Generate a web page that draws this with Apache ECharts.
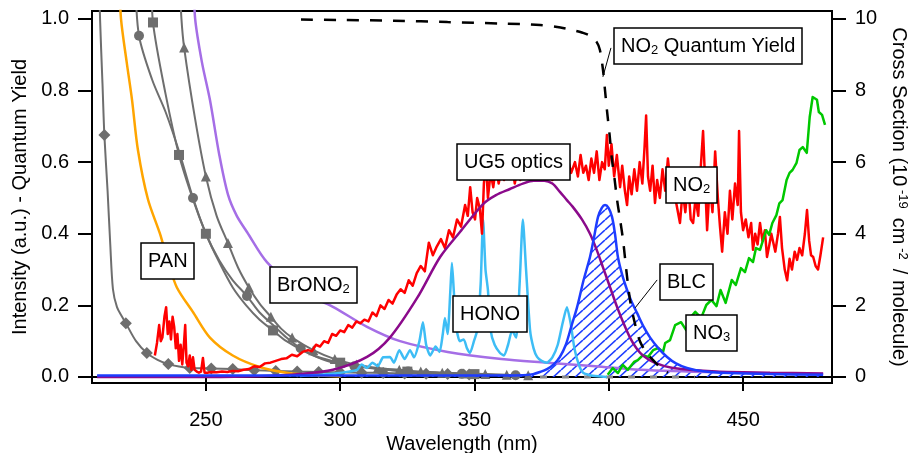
<!DOCTYPE html>
<html><head><meta charset="utf-8">
<script src="https://cdn.jsdelivr.net/npm/echarts@6/dist/echarts.min.js"></script>
<style>html,body{margin:0;padding:0;background:#fff}#c{width:912px;height:453px}</style>
</head><body><div id="c"></div>
<script>
// ---------- axes ----------
const xTicks = [250, 300, 350, 400, 450];
const yLeftTicks = [0, 0.2, 0.4, 0.6, 0.8, 1.0];
const yRightTicks = [0, 2, 4, 6, 8, 10];
const X_MIN = 207.6, X_MAX = 483.1;
const YL_MIN = -0.0168, YL_MAX = 1.022;

// ---------- cross sections (right axis, 1e-19 cm^2/molecule) ----------
const grayDiamond = [[209.6,13],[210.6,10],[211.5,8.2],[212.2,6.76],[213.4,5.2],[214.4,3.7],[215.4,2.45],[216.9,1.95],[218.8,1.68],[220.2,1.5],[224,1.0],[228,0.67],[232,0.48],[236,0.36],[240,0.29],[244,0.25],[252,0.24],[260,0.22],[268,0.19],[276,0.17],[284,0.15],[292,0.14],[300,0.13],[308,0.12],[316,0.11],[324,0.1],[332,0.09],[340,0.08],[348,0.07]];
const grayDiamondMarks = [212.2,220.2,228,236,244,252,260,268,276,284,292,300,308,316,324,332,340,348];
const grayCircle = [[223.8,11],[225.1,9.53],[230,8.3],[235,7.4],[240,6.3],[245.2,5.0],[250,4.0],[255,3.25],[260,2.7],[265.3,2.26],[270,1.8],[275,1.45],[280,1.1],[285.3,0.8],[295,0.45],[305.3,0.3],[325.3,0.15],[345.3,0.09],[365.3,0.05]];
const grayCircleMarks = [225.1,245.2,265.3,285.3,305.3,325.3,345.3,365.3];
const graySquare = [[229.8,11],[230.3,9.9],[235,7.9],[240,6.2],[245,5.0],[250,4.0],[255,3.2],[260,2.5],[265,2.0],[270,1.6],[275,1.3],[280,1.0],[290,0.6],[300,0.4],[312,0.25],[325,0.15],[350,0.08]];
const graySquareMarks = [230.3,240,250,275,300,325,350];
const grayTriangle = [[240.3,11],[240.9,10],[241.9,9.2],[246,7.2],[250,5.6],[254,4.5],[258.2,3.74],[262,3.05],[266,2.5],[270,2.05],[274.2,1.68],[278,1.35],[282.1,1.1],[290,0.75],[298,0.5],[306,0.35],[314,0.25],[322,0.2],[330,0.15],[338,0.12],[346,0.1],[354,0.08],[362,0.06],[370,0.05]];
const grayTriangleMarks = [241.9,250,258.2,266,274.2,282.1,290,298,306,314,322,330,338,346,354,362,370];
const grayDashed = [[374.4,0],[432,0]];
const pan = [[217.9,11],[218.4,10],[220.5,8.8],[222.5,7.74],[224.7,6.34],[228.4,4.97],[232.9,4.0],[236,3.2],[239.2,2.5],[245.3,1.8],[251.5,1.1],[260,0.6],[270,0.28],[280,0.12],[290,0.05],[300,0.02]];
const brono2 = [[245.6,11],[246,10],[248.5,8.8],[251.5,7.74],[255,6.2],[258.2,5.1],[261.5,4.5],[265.3,4.05],[272.8,3.2],[285,2.4],[297.3,1.96],[310,1.4],[322.3,1.0],[340,0.7],[360,0.5],[377,0.4],[395,0.3],[411.6,0.2],[440,0.13],[479.8,0.08]];
const hono = [[285,0.03],[292,0.06],[298,0.1],[303,0.15],[306.3,0.2],[308,0.35],[310,0.25],[312,0.4],[314,0.3],[316,0.55],[318.5,0.56],[320,0.4],[322,0.75],[324,0.5],[326,0.75],[327.5,0.55],[329.5,1.0],[330.8,1.53],[332,0.9],[333.5,0.6],[335.5,0.85],[337,0.7],[338.2,1.2],[339,1.65],[340,1.2],[341,2.4],[341.6,3.18],[342.3,2.4],[343.2,1.4],[344.5,1.0],[346,1.05],[347.2,0.8],[348.3,0.67],[349.8,1.0],[351,1.3],[352.3,2.6],[353.2,4.4],[354.1,3.0],[355,2.43],[356,1.3],[357.5,0.9],[359.5,0.67],[361,0.6],[362.5,0.9],[364,1.3],[365.5,1.1],[366.8,2.6],[368,4.4],[369.2,3.0],[370.7,1.3],[372,0.8],[373.3,0.56],[375,0.45],[377,0.4],[379,0.55],[381,0.9],[382.8,1.5],[384.4,1.95],[385.8,1.5],[387.2,0.8],[388.8,0.35],[390.4,0.12],[393,0.05],[396,0.02],[399.3,0.0]];
const no2 = [[231,0.6],[231.8,0.95],[232.6,1.45],[233.2,1.0],[233.8,1.1],[234.6,1.7],[235.2,1.95],[235.8,1.2],[236.4,1.55],[237,1.05],[237.6,1.68],[238.2,1.4],[238.8,0.8],[239.4,1.2],[240,0.45],[240.6,0.9],[241.2,0.35],[241.8,0.9],[242.3,1.45],[242.8,0.4],[243.4,0.3],[244,0.6],[244.6,0.2],[245.2,0.55],[245.8,0.2],[246.6,0.15],[247.4,0.12],[248.2,0.15],[248.9,0.53],[249.5,0.12],[250.5,0.12],[252,0.14],[254,0.13],[256,0.15],[258,0.14],[260,0.17],[262,0.16],[264,0.2],[266,0.22],[268,0.3],[270,0.28],[272,0.38],[274,0.4],[276,0.45],[278,0.5],[280,0.52],[282,0.62],[284,0.58],[286,0.7],[288,0.75],[289.5,0.72],[291,0.9],[292.5,0.85],[294,1.0],[295.5,0.95],[297,1.2],[298.5,1.15],[300,1.3],[301.5,1.25],[303,1.45],[304.5,1.38],[306,1.55],[307.5,1.5],[309,1.6],[310.5,1.55],[312,1.8],[313.5,1.7],[315,2.0],[316.5,1.9],[318,2.15],[319.5,2.05],[321,2.3],[322.5,2.45],[324,2.35],[325.5,2.7],[327,2.55],[328.5,2.9],[330,3.1],[331.5,2.95],[333,3.75],[334.5,3.4],[336,3.65],[337.5,3.85],[339,3.6],[340.5,4.1],[342,3.9],[343.5,4.4],[345,4.2],[346.5,4.8],[347.5,4.5],[348.4,5.3],[349.3,4.6],[350.2,4.4],[351,5.0],[352,4.7],[352.8,4.0],[353.5,5.4],[354.3,6.0],[355,5.0],[356,5.7],[357,5.3],[358,5.9],[359,5.4],[360,5.8],[361,5.5],[362,6.0],[363,5.6],[364,5.9],[365,5.4],[366,5.8],[367,5.5],[368,6.1],[369,5.7],[370,5.9],[371,5.6],[372,6.0],[373,5.5],[374,5.8],[375,5.6],[376,6.1],[377,5.7],[378,6.0],[379,5.5],[380,5.9],[381,5.6],[382,6.2],[383,5.8],[384,5.6],[385,6.0],[386,5.7],[387.4,6.0],[388.5,5.6],[389.5,6.2],[390.5,5.7],[391.5,5.9],[392.5,5.5],[393.5,6.1],[394.5,5.7],[395.5,6.3],[396.5,5.5],[397.5,6.0],[398.5,5.8],[399.3,6.76],[400,5.9],[401,6.5],[402,5.6],[403,6.2],[404.2,5.3],[405,5.9],[406,5.2],[406.8,4.8],[407.6,5.6],[408.5,5.1],[409.5,5.8],[410.5,5.2],[411.5,6.0],[412.5,5.4],[413.3,6.4],[413.9,7.3],[414.6,5.6],[415.4,5.2],[416.3,5.9],[417.2,4.86],[418,5.5],[419,5.0],[420,5.8],[421,5.2],[422,6.1],[423,5.4],[424,5.7],[425,4.9],[426.5,4.3],[427.5,5.2],[428.5,4.6],[429.5,5.5],[430.5,4.4],[431.4,4.3],[432.3,5.0],[433.3,4.5],[434.2,5.8],[435.1,6.87],[436,5.2],[436.6,4.1],[437.6,5.4],[438.6,4.6],[439.6,6.3],[440.6,5.0],[441.4,4.2],[442.2,3.5],[443.2,4.6],[444.2,4.0],[445.1,5.2],[446,4.4],[447,5.4],[448,4.8],[448.5,6.87],[449.2,4.6],[450,4.1],[451,4.4],[452,3.9],[453,4.3],[453.7,3.55],[454.5,4.0],[455.4,3.7],[456.3,4.3],[457.2,3.8],[458.1,4.1],[458.9,3.35],[459.8,3.7],[460.5,4.0],[461.1,3.8],[462,3.5],[463,4.0],[463.7,4.47],[464.5,3.6],[465.5,3.0],[466.4,2.7],[467.3,3.3],[468.2,3.0],[469.2,3.5],[470.1,3.27],[471,3.6],[472,3.4],[473,4.0],[473.8,4.66],[474.6,3.8],[475.3,3.4],[476.1,3.35],[477,3.1],[477.9,3.0],[478.8,3.4],[479.8,3.9]];
const no3 = [[399.6,0.06],[401.5,0.25],[403.4,0.11],[405.2,0.34],[407.1,0.2],[409.4,0.42],[410.8,0.47],[412.7,0.61],[414.6,0.56],[416.5,0.75],[418.4,0.81],[420.2,0.7],[421,0.95],[422.8,1.03],[424.7,1.45],[426.9,1.53],[428.8,1.31],[430.3,1.65],[432.2,1.82],[434.4,1.65],[436.3,2.01],[438.2,2.15],[440.1,1.98],[441.6,2.43],[443.5,2.07],[445.8,2.71],[447.3,2.57],[449.2,3.04],[450.7,2.93],[452.2,3.32],[453.7,3.21],[454.8,3.6],[456.3,3.55],[458.6,4.1],[459.7,3.97],[460.9,4.3],[462.4,4.52],[463.5,4.85],[464.7,4.94],[466.2,5.5],[467.3,5.7],[468.4,5.78],[469.9,5.98],[471,6.34],[472.2,6.42],[473.7,6.26],[474.8,7.26],[475.9,7.82],[477.5,7.74],[478.2,7.4],[479.4,7.32],[480.5,7.04]];

// ---------- intensities / quantum yield (left axis) ----------
const ug5 = [[209.5,0],[250,0],[270,0.002],[285,0.008],[297.3,0.02],[310,0.056],[318.5,0.11],[328.6,0.22],[337.2,0.335],[344.6,0.405],[353.2,0.483],[358,0.508],[363.2,0.525],[368,0.54],[372,0.548],[376,0.548],[379,0.54],[381.8,0.517],[384.4,0.494],[386.6,0.475],[390,0.44],[393,0.4],[395.5,0.355],[397.8,0.307],[400.5,0.25],[403.1,0.195],[405.5,0.15],[407.9,0.11],[410.3,0.08],[412.7,0.06],[417,0.04],[423.9,0.025],[440,0.015],[460,0.012],[479.8,0.01]];
const blc = [[209.5,0.004],[300,0.004],[350,0.004],[368,0.005],[371.8,0.008],[374.4,0.014],[377,0.022],[379.5,0.035],[381.8,0.056],[384,0.09],[386,0.14],[388.2,0.195],[390.6,0.27],[393,0.335],[394.5,0.39],[396,0.447],[397.4,0.472],[398.6,0.48],[399.9,0.472],[401.2,0.447],[402.3,0.4],[403.4,0.335],[405,0.285],[406.8,0.243],[408.5,0.21],[410.5,0.179],[413,0.14],[415.4,0.11],[418.5,0.08],[421.7,0.056],[425,0.038],[429.1,0.025],[435,0.016],[445,0.011],[460,0.008],[479.8,0.006]];
const no2QY = [[285.4,0.998],[300,0.997],[320,0.995],[340,0.991],[360,0.987],[374.4,0.983],[382,0.976],[387,0.968],[390,0.962],[393,0.953],[395.5,0.935],[396.7,0.913],[397.8,0.86],[398.6,0.8],[399.3,0.746],[400.3,0.676],[401.2,0.606],[402.2,0.55],[403.1,0.494],[404.2,0.44],[405.3,0.383],[406.5,0.3],[407.9,0.215],[409.7,0.15],[411.6,0.1],[414,0.068],[416.5,0.047],[418.4,0.032],[420.2,0.02],[422,0.012]];

// leader lines (data coordinates, left axis)
const qyLeader = [[400.8,0.919],[397.8,0.838]];
const blcLeader = [[418.0,0.271],[409.8,0.193]];

// ---------- styling ----------
const FONT = "'Liberation Sans', Arial, Helvetica, sans-serif";
const GRAY = '#6e6e6e';
function hatchCanvas() {
  const w = 11, h = 10;
  const c = document.createElement('canvas'); c.width = w; c.height = h;
  const g = c.getContext('2d');
  g.strokeStyle = '#1d3cff'; g.lineWidth = 1.6;
  [-w, 0, w].forEach(o => { g.beginPath(); g.moveTo(o, h); g.lineTo(o + w, 0); g.stroke(); });
  return c;
}
function markSize(marks, size) {
  return function (v) { return marks.some(m => Math.abs(m - v[0]) < 1e-6) ? size : 0; };
}
function grayLine(data, marks, symbol, size) {
  return { type: 'line', yAxisIndex: 1, data: data, smooth: 0.3,
    symbol: symbol, symbolSize: markSize(marks, size), showSymbol: true, showAllSymbol: true,
    itemStyle: { color: GRAY }, lineStyle: { color: GRAY, width: 2 }, z: 2 };
}
const rich = {
  n: { fontSize: 20, fontFamily: FONT, color: '#000', lineHeight: 22 },
  s: { fontSize: 13, fontFamily: FONT, color: '#000', lineHeight: 8, verticalAlign: 'bottom' },
  sup: { fontSize: 13, fontFamily: FONT, color: '#000', lineHeight: 8, verticalAlign: 'top' }
};
const labelDefs = [
  ['{n|NO}{s|2}{n| Quantum Yield}', 614, 28],
  ['{n|UG5 optics}', 457, 144],
  ['{n|PAN}', 141, 243],
  ['{n|BrONO}{s|2}', 270, 267],
  ['{n|HONO}', 453, 296],
  ['{n|NO}{s|2}', 666, 167],
  ['{n|BLC}', 660, 264],
  ['{n|NO}{s|3}', 686, 315]
];
const titles = labelDefs.map(d => ({
  text: d[0], left: d[1], top: d[2], padding: [7, 7, 7, 7],
  borderColor: '#000', borderWidth: 1.5, backgroundColor: '#fff', z: 10,
  textStyle: { fontSize: 20, fontFamily: FONT, color: '#000', fontWeight: 'normal', lineHeight: 22, rich: rich }
}));
const axisFont = { fontSize: 20, fontFamily: FONT, color: '#000' };
const leaderStyle = { color: '#000', width: 1, type: 'solid' };
const smoothLine = (data, axis, color, extra) => Object.assign({ type: 'line', yAxisIndex: axis, data: data, smooth: 0.3, showSymbol: false, lineStyle: { color: color, width: 2.5 } }, extra || {});

const option = {
  animation: false,
  backgroundColor: '#fff',
  title: titles,
  grid: { left: 92, right: 80, top: 11, bottom: 70, outerBoundsMode: 'none', containLabel: false,
    show: true, borderColor: '#000', borderWidth: 2, backgroundColor: 'transparent' },
  xAxis: {
    type: 'value', min: X_MIN, max: X_MAX,
    axisLine: { show: true, lineStyle: { color: '#000', width: 2 } },
    axisTick: { show: true, customValues: xTicks, length: 14, lineStyle: { color: '#000', width: 2 } },
    axisLabel: Object.assign({ customValues: xTicks, margin: 27 }, axisFont),
    splitLine: { show: false },
    name: 'Wavelength (nm)', nameLocation: 'middle', nameGap: 50, nameTextStyle: axisFont
  },
  yAxis: [{
    type: 'value', position: 'left', min: YL_MIN, max: YL_MAX,
    axisLine: { show: true, lineStyle: { color: '#000', width: 2 } },
    axisTick: { show: true, customValues: yLeftTicks, length: 14, lineStyle: { color: '#000', width: 2 } },
    axisLabel: Object.assign({ customValues: yLeftTicks, margin: 23, formatter: v => v.toFixed(1) }, axisFont),
    splitLine: { show: false },
    name: 'Intensity (a.u.) - Quantum Yield', nameLocation: 'middle', nameGap: 60, nameTextStyle: axisFont
  }, {
    type: 'value', position: 'right', min: YL_MIN * 10, max: YL_MAX * 10,
    axisLine: { show: true, lineStyle: { color: '#000', width: 2 } },
    axisTick: { show: true, customValues: yRightTicks, length: 14, lineStyle: { color: '#000', width: 2 } },
    axisLabel: Object.assign({ customValues: yRightTicks, margin: 23, formatter: v => String(Math.round(v)) }, axisFont),
    splitLine: { show: false },
    name: '{n|Cross Section (10}{sup| -19 }{n| cm}{sup| -2 }{n| / molecule)}', nameLocation: 'middle', nameGap: 38, nameRotate: -90,
    nameTextStyle: Object.assign({ rich: rich }, axisFont)
  }],
  series: [
    grayLine(grayDiamond, grayDiamondMarks, 'diamond', 12),
    grayLine(grayCircle, grayCircleMarks, 'circle', 10),
    grayLine(graySquare, graySquareMarks, 'rect', 10),
    grayLine(grayTriangle, grayTriangleMarks, 'triangle', 10),
    { type: 'line', yAxisIndex: 1, data: grayDashed, showSymbol: false, lineStyle: { color: '#888', width: 3, type: [7, 15] } },
    smoothLine(pan, 1, '#ffa500'),
    smoothLine(brono2, 1, '#a56ee6'),
    { type: 'line', yAxisIndex: 1, data: hono, smooth: 0.2, showSymbol: false, lineStyle: { color: '#3dbdf5', width: 2.5 } },
    { type: 'line', yAxisIndex: 1, data: no2, showSymbol: false, lineStyle: { color: '#ff0000', width: 2.5, join: 'round' } },
    { type: 'line', yAxisIndex: 1, data: no3, showSymbol: false, lineStyle: { color: '#00c800', width: 2.5, join: 'round' } },
    smoothLine(ug5, 0, '#8b0a8b'),
    smoothLine(blc, 0, '#1d3cff', {
      areaStyle: { color: { image: hatchCanvas(), repeat: 'repeat' }, opacity: 1 },
      markLine: { silent: true, symbol: ['none', 'none'], label: { show: false }, lineStyle: leaderStyle,
        data: [[{ coord: blcLeader[0] }, { coord: blcLeader[1] }]] } }),
    smoothLine(no2QY, 0, '#000', {
      lineStyle: { color: '#000', width: 2.5, type: [12, 11] },
      markLine: { silent: true, symbol: ['none', 'none'], label: { show: false }, lineStyle: leaderStyle,
        data: [[{ coord: qyLeader[0] }, { coord: qyLeader[1] }]] } })
  ]
};
const chart = echarts.init(document.getElementById('c'), null, { renderer: 'canvas' });
chart.setOption(option);
</script>
</body></html>
